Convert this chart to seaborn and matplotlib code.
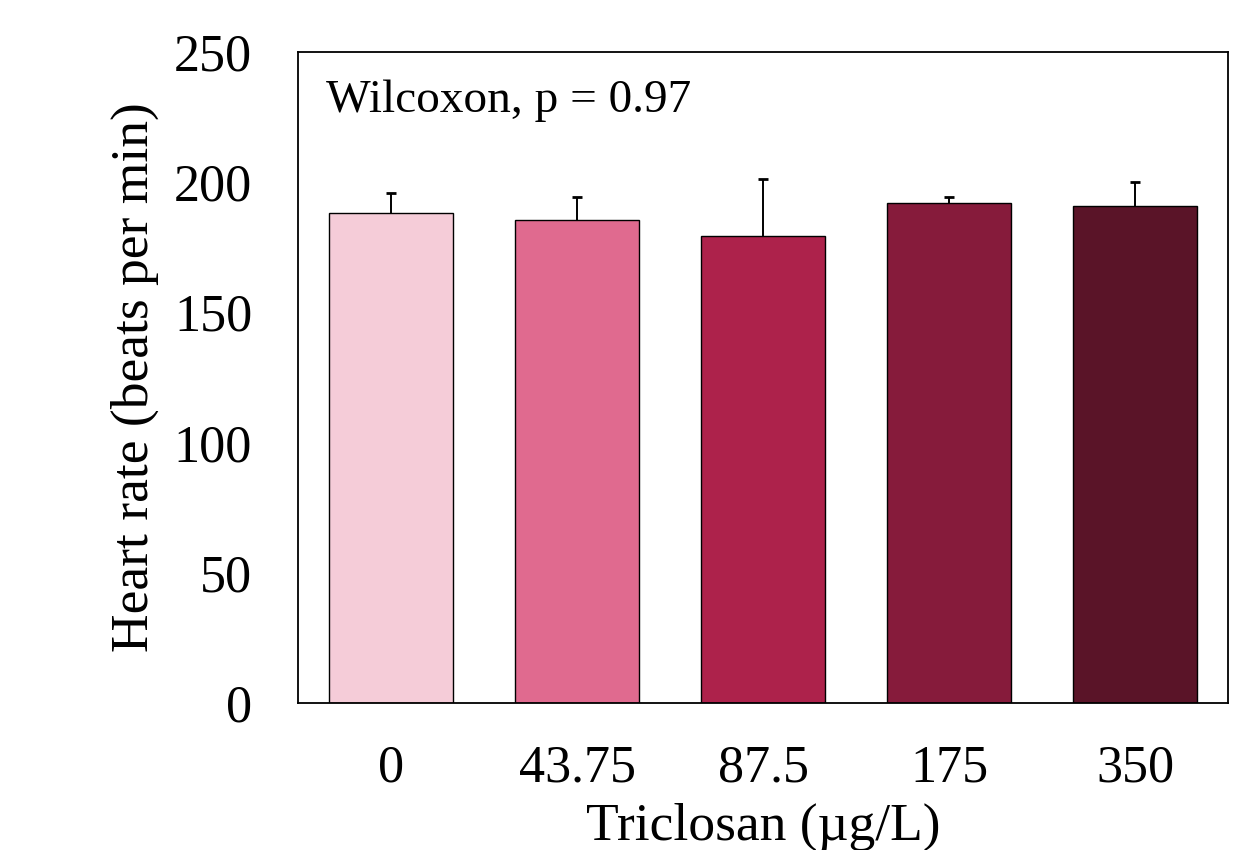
import seaborn as sns
import matplotlib.pyplot as plt
import pandas as pd

# data
doses = ["0", "43.75", "87.5", "175", "350"]
heart_rate = [188.3, 185.5, 179.2, 191.9, 190.9]
heart_rate_err = [7.6, 8.9, 22.1, 2.3, 9.0]
bar_colors = ["#F5CCD8", "#E06A8F", "#AD224B", "#861B3B", "#5A1428"]

df = pd.DataFrame({"dose": doses, "rate": heart_rate})
tops = [v + e for v, e in zip(heart_rate, heart_rate_err)]

sns.set_style("white")
plt.rcParams['font.family'] = ['Liberation Serif', 'DejaVu Serif']
plt.rcParams['text.color'] = 'black'
plt.rcParams['xtick.color'] = 'black'
plt.rcParams['ytick.color'] = 'black'
plt.rcParams['axes.labelcolor'] = 'black'

fig = plt.figure(figsize=(12.37, 8.5), dpi=100)
ax = fig.add_axes([298 / 1237, 1 - 703 / 850, 930 / 1237, 651 / 850])

sns.barplot(data=df, x="dose", y="rate", hue="dose", palette=bar_colors,
            saturation=1, legend=False, width=0.67, edgecolor="black",
            linewidth=1.0, errorbar=None, ax=ax)

# upper error bars only
xpos = range(len(doses))
ax.vlines(xpos, heart_rate, tops, color="black", linewidth=1.4, zorder=3)
ax.scatter(xpos, tops, marker="_", s=60, color="black", linewidths=2, zorder=3)

ax.set_xlim(-0.5, 4.5)
ax.set_ylim(0, 250)
ax.set_yticks([0, 50, 100, 150, 200, 250])
ax.tick_params(axis="both", length=0, labelsize=37.5)
ax.tick_params(axis="y", pad=33)
ax.tick_params(axis="x", pad=30)
ax.set_xlabel("Triclosan (µg/L)", fontsize=38.5, labelpad=7)
ax.set_ylabel("Heart rate (beats per min)", fontsize=38.5, labelpad=11)
for s in ax.spines.values():
    s.set_visible(True)
    s.set_color("black")
    s.set_linewidth(1.3)

ax.text(0.03, 0.925, "Wilcoxon, p = 0.97", transform=ax.transAxes,
        fontsize=34, ha="left", va="center")

fig.savefig("out.png", dpi=100, facecolor="white")
